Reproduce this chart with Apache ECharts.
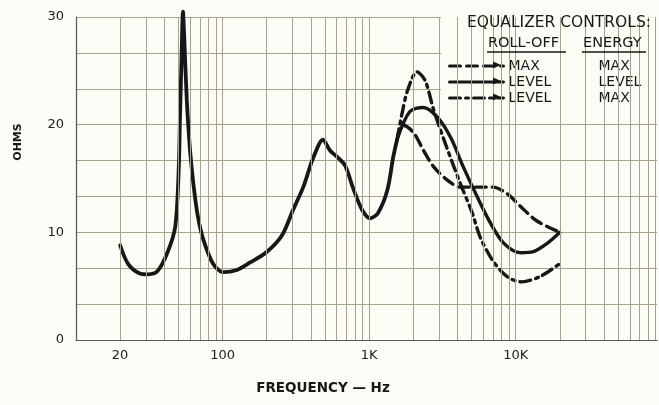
<!DOCTYPE html>
<html>
<head>
<meta charset="utf-8">
<title>Impedance vs frequency</title>
<script src="https://cdn.jsdelivr.net/npm/echarts@6/dist/echarts.min.js"></script>
<style>
  html, body { margin: 0; padding: 0; background: #fcfcf6; }
  #chart { width: 659px; height: 405px; }
</style>
</head>
<body>
<div id="chart"></div>
<script>
// common curve, same for every control setting up to ~1.5 kHz
const commonFreq = [20, 22.6, 27, 31, 36, 42, 47.5, 50.3, 51.2, 52.3, 53.7, 54.6, 57, 60, 63.6, 68, 74, 86, 101, 125, 154,
  201, 254, 303, 355, 415, 484, 541, 605, 686, 777, 894, 1017, 1150, 1330, 1460, 1550];
const commonOhms = [8.8, 7.1, 6.2, 6.1, 6.4, 8.1, 10.5, 16.1, 20.7, 25.3, 30.5, 28.5, 22.3, 17.6, 14.2, 11.4, 9.3, 7.1, 6.3, 6.5, 7.2,
  8.2, 9.7, 12.1, 14.2, 16.9, 18.6, 17.6, 17.0, 16.2, 14.1, 12.1, 11.3, 11.8, 13.9, 17.0, 18.6];

// roll-off MAX / energy MAX (dashed)
const maxMaxFreq = [1550, 1680, 2000, 2350, 2750, 3380, 4170, 5460, 7000, 8700, 10800, 13800, 20000];
const maxMaxOhms = [18.6, 20.0, 19.3, 17.6, 16.1, 14.9, 14.2, 14.2, 14.2, 13.6, 12.4, 11.1, 10.0];

// roll-off LEVEL / energy LEVEL (solid)
const levelLevelFreq = [1550, 1890, 2340, 2920, 3600, 4380, 5460, 6700, 8270, 10800, 13200, 16500, 20000];
const levelLevelOhms = [18.6, 21.2, 21.6, 20.7, 18.8, 16.1, 13.3, 10.9, 9.0, 8.1, 8.2, 9.0, 10.0];

// roll-off LEVEL / energy MAX (dash-dot)
const levelMaxFreq = [1550, 1680, 1830, 2120, 2410, 2750, 3380, 4170, 5050, 5700, 6950, 8700, 11000, 14700, 20000];
const levelMaxOhms = [18.6, 21.1, 23.2, 24.9, 24.1, 21.4, 17.9, 14.6, 11.8, 9.6, 7.4, 5.9, 5.4, 5.9, 7.1];

const rollOff = ['MAX', 'LEVEL', 'LEVEL'];
const energy = ['MAX', 'LEVEL', 'MAX'];

const xTickLabels = [20, 100, 1000, 10000];
const gridFreqs = [20, 30, 40, 50, 60, 70, 80, 90,
  100, 200, 300, 400, 500, 600, 700, 800, 900,
  1000, 2000, 3000, 4000, 5000, 6000, 7000, 8000, 9000,
  10000, 20000, 30000, 40000, 50000, 60000, 70000, 80000, 90000];

const ink = '#171717';
const gridColor = '#a8a18a';
const bg = '#fcfcf6';
const font = '"DejaVu Sans", sans-serif';

const pairs = (f, o) => f.map((v, i) => [v, o[i]]);
const names = rollOff.map((r, i) => r + ' / ' + energy[i]);

const chart = echarts.init(document.getElementById('chart'));

const curve = (name, data, type, width) => ({
  name: name,
  type: 'line',
  data: data,
  symbol: 'none',
  smooth: 0.3,
  clip: false,
  z: 2,
  itemStyle: {color: ink},
  lineStyle: {color: ink, width: width || 3.4, type: type, cap: 'round'},
  emphasis: {disabled: true}
});

chart.setOption({
  animation: false,
  backgroundColor: bg,
  grid: {left: 76, right: 2, top: 17, bottom: 65},
  xAxis: {
    type: 'log',
    logBase: 10,
    min: 10,
    max: 92000,
    axisLine: {show: true, lineStyle: {color: '#555', width: 1.2}},
    axisTick: {show: false},
    splitLine: {show: false},
    axisLabel: {
      customValues: xTickLabels,
      margin: 9,
      color: '#222',
      fontFamily: font,
      fontSize: 13,
      formatter: v => v >= 1000 ? (v / 1000) + 'K' : String(v)
    }
  },
  yAxis: {
    type: 'value',
    min: 0,
    max: 30,
    interval: 10 / 3,
    axisLine: {show: true, lineStyle: {color: '#555', width: 1.2}},
    axisTick: {show: false},
    splitLine: {show: true, lineStyle: {color: gridColor, width: 1}},
    axisLabel: {
      margin: 12,
      color: '#222',
      fontFamily: font,
      fontSize: 13,
      formatter: v => {
        const t = Math.round(v);
        return Math.abs(v - t) < 1e-6 && t % 10 === 0 ? String(t) : '';
      }
    }
  },
  legend: {
    data: names,
    orient: 'vertical',
    left: 443,
    top: 54,
    itemWidth: 54,
    itemHeight: 12,
    itemGap: 2,
    z: 5,
    selectedMode: false,
    itemStyle: {opacity: 0},
    lineStyle: {color: ink, width: 3},
    formatter: name => {
      const i = names.indexOf(name);
      return '{a|' + rollOff[i] + '}{b|' + energy[i] + '}';
    },
    textStyle: {
      color: ink,
      fontFamily: font,
      fontSize: 14,
      rich: {
        a: {width: 90, fontFamily: font, fontSize: 14, color: ink, lineHeight: 14},
        b: {fontFamily: font, fontSize: 14, color: ink, lineHeight: 14}
      }
    }
  },
  graphic: [
    {type: 'rect', z: 3, shape: {x: 441, y: 0, width: 218, height: 104}, style: {fill: bg}},
    {type: 'text', z: 6, x: 651, y: 23, style: {text: 'EQUALIZER CONTROLS:', align: 'right', verticalAlign: 'middle', font: '15.5px ' + font, fill: ink}},
    {type: 'text', z: 6, x: 488, y: 43, style: {text: 'ROLL-OFF', align: 'left', verticalAlign: 'middle', font: '14.5px ' + font, fill: ink}},
    {type: 'text', z: 6, x: 583, y: 43, style: {text: 'ENERGY', align: 'left', verticalAlign: 'middle', font: '14.5px ' + font, fill: ink}},
    {type: 'line', z: 6, shape: {x1: 487, y1: 52, x2: 566, y2: 52}, style: {stroke: ink, lineWidth: 1.6}},
    {type: 'line', z: 6, shape: {x1: 582, y1: 52, x2: 646, y2: 52}, style: {stroke: ink, lineWidth: 1.6}},
    {type: 'polygon', z: 6, shape: {points: [[493, 61.5], [501, 65], [493, 68.5]]}, style: {fill: ink}},
    {type: 'polygon', z: 6, shape: {points: [[493, 77.5], [501, 81], [493, 84.5]]}, style: {fill: ink}},
    {type: 'polygon', z: 6, shape: {points: [[493, 93.5], [501, 97], [493, 100.5]]}, style: {fill: ink}},
    {type: 'text', z: 6, x: 18, y: 142, rotation: Math.PI / 2, style: {text: 'OHMS', align: 'center', verticalAlign: 'middle', font: 'bold 11px ' + font, fill: ink}},
    {type: 'text', z: 6, x: 323, y: 388, style: {text: 'FREQUENCY — Hz', align: 'center', verticalAlign: 'middle', font: 'bold 13.5px ' + font, fill: ink}}
  ],
  series: [
    {
      name: '_grid',
      type: 'line',
      data: [],
      z: 1,
      silent: true,
      markLine: {
        silent: true,
        symbol: 'none',
        label: {show: false},
        emphasis: {disabled: true},
        lineStyle: {color: gridColor, width: 1, type: 'solid'},
        data: gridFreqs.map(f => ({xAxis: f}))
      }
    },
    curve('common', pairs(commonFreq, commonOhms), 'solid', 3.8),
    curve(names[0], pairs(maxMaxFreq, maxMaxOhms), [11, 6]),
    curve(names[1], pairs(levelLevelFreq, levelLevelOhms), 'solid'),
    curve(names[2], pairs(levelMaxFreq, levelMaxOhms), [11, 5, 3, 5])
  ]
});
</script>
</body>
</html>
